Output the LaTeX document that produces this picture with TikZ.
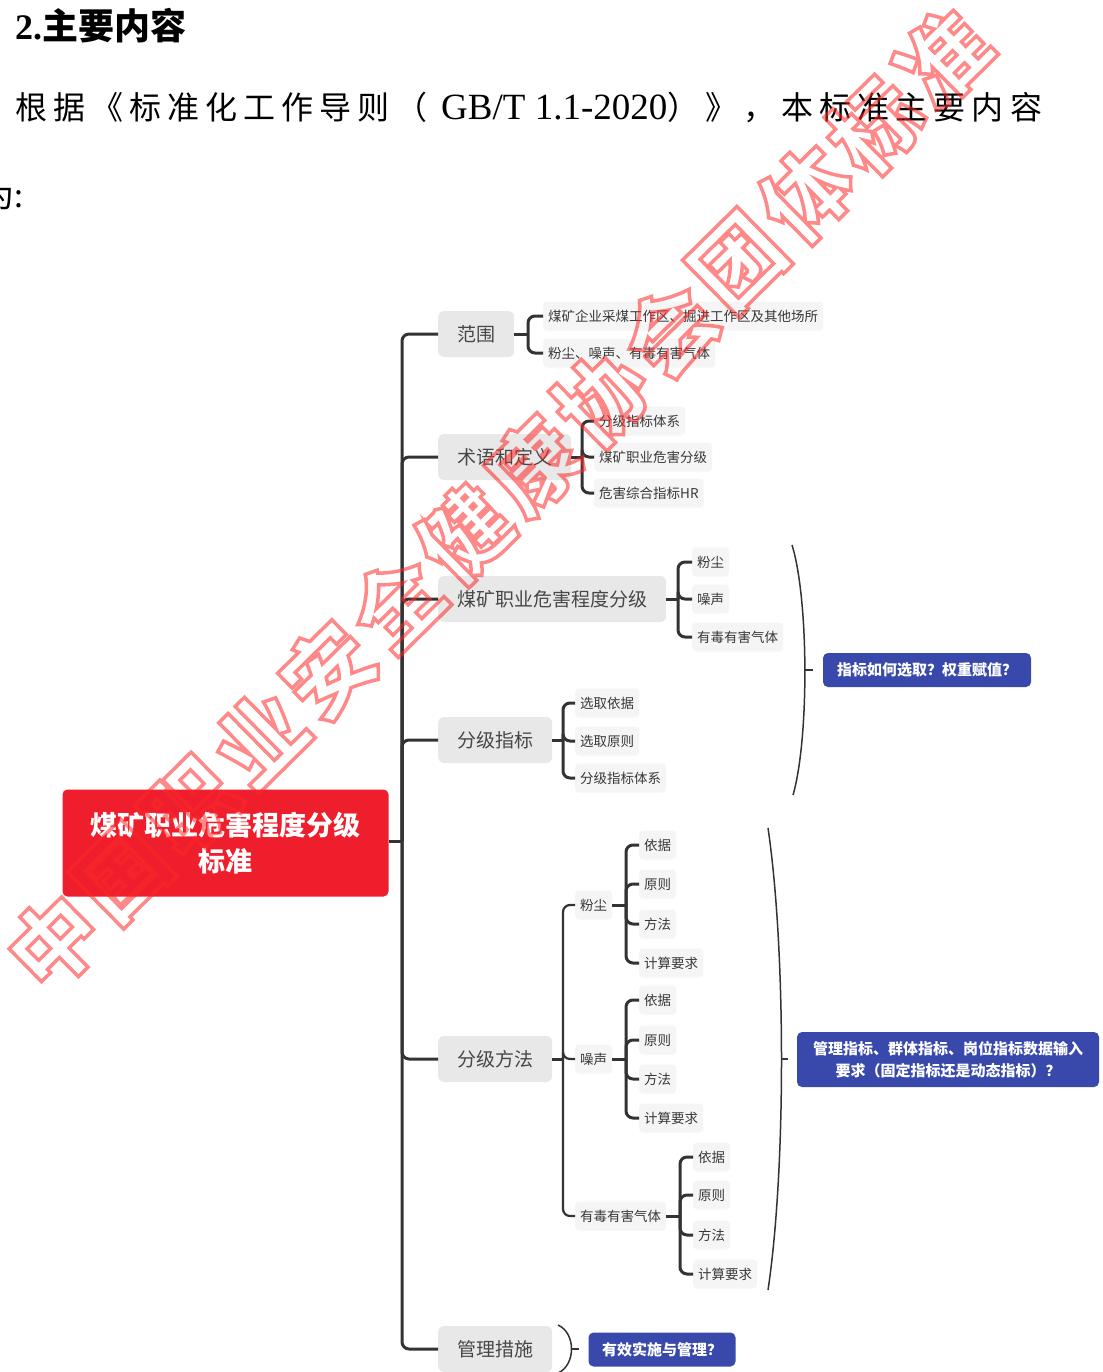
\documentclass[tikz,border=0pt]{standalone}
\usepackage{fontspec}
\setmainfont{Liberation Serif}
\newfontfamily\cjk{Noto Sans CJK SC}
\newfontfamily\cjkhead[LetterSpace=19]{Noto Sans CJK SC}
\usetikzlibrary{positioning,calc}

\definecolor{linegray}{RGB}{51,51,51}
\definecolor{boxgray}{RGB}{232,232,232}
\definecolor{leafgray}{RGB}{245,245,245}
\definecolor{rootred}{RGB}{238,30,45}
\definecolor{askblue}{RGB}{57,73,171}
\definecolor{wmred}{RGB}{255,40,40}

\begin{document}
\begin{tikzpicture}[x=1pt,y=-1pt]
\tikzstyle{every node}+=[inner sep=0pt]
\tikzstyle{link}=[draw=linegray, line width=3pt, rounded corners=7pt]
\tikzstyle{thinlink}=[draw=linegray, line width=2.2pt, rounded corners=7pt]
\tikzstyle{paren}=[draw=linegray, line width=1.5pt]
\tikzstyle{topic}=[fill=boxgray, rounded corners=6pt, inner xsep=19pt, minimum height=46pt, anchor=west, text=black!72, font=\cjk\fontsize{19}{19}\selectfont]
\tikzstyle{leaf}=[fill=leafgray, rounded corners=4pt, inner xsep=5pt, minimum height=29pt, anchor=west, text=black!78, font=\cjk\fontsize{13.5}{14}\selectfont]
\tikzstyle{ask}=[fill=askblue, rounded corners=5pt, text=white, align=center, font=\cjk\bfseries\fontsize{15}{22}\selectfont]
\tikzstyle{wm}=[text=wmred, opacity=0.55, rotate=44.6, font=\cjk\bfseries\fontsize{88}{88}\selectfont]
\useasboundingbox[fill=white] (0,0) rectangle (1102,1372);

\node[anchor=west, font=\cjk\bfseries\fontsize{36}{36}\selectfont] (title) at (15,26) {{\rmfamily 2.}主要内容};
\node[anchor=west] (intro) at (15,108) {\cjkhead\fontsize{32}{32}\selectfont 根据《标准化工作导则（ {\rmfamily\fontsize{37}{37}\selectfont GB/T 1.1-2020}）》，本标准主要内容};
\node[anchor=east, font=\cjk\fontsize{32}{32}\selectfont] (wei) at (24,195) {为:};

\node[fill=rootred, rounded corners=5pt, minimum width=326pt, minimum height=107pt, text=white, align=center, font=\cjk\bfseries\fontsize{27}{36}\selectfont] (std) at (225.5,843) {煤矿职业危害程度分级\\标准};

\node[topic] (fanwei) at (438,334) {范围};
\node[topic] (shuyu) at (438,457) {术语和定义};
\node[topic] (chengdu) at (438,599) {煤矿职业危害程度分级};
\node[topic] (zhibiao) at (438,740) {分级指标};
\node[topic] (fangfa) at (438,1059) {分级方法};
\node[topic] (guanli) at (438,1349) {管理措施};

\coordinate (trunk) at (402,841);
\draw[link] (std.east |- trunk) -- (trunk);
\foreach \t in {fanwei,shuyu,chengdu,zhibiao,fangfa,guanli}
  \draw[link] (trunk) |- (\t.west);

\coordinate (fwj) at (528,334);
\draw[link] (fanwei.east) -- (fwj);
\foreach \txt/\y [count=\i] in {煤矿企业采煤工作区、掘进工作区及其他场所/316,粉尘、噪声、有毒有害气体/353}{
  \node[leaf] (fw\i) at (543,\y) {\txt};
  \draw[link] (fwj) |- (fw\i.west);
}

\coordinate (syj) at (582,457);
\draw[link] (shuyu.east) -- (syj);
\foreach \txt/\y [count=\i] in {分级指标体系/421,煤矿职业危害分级/457,危害综合指标HR/493}{
  \node[leaf] (sy\i) at (594,\y) {\txt};
  \draw[link] (syj) |- (sy\i.west);
}

\coordinate (cdj) at (678,599);
\draw[link] (chengdu.east) -- (cdj);
\foreach \txt/\y [count=\i] in {粉尘/562,噪声/599,有毒有害气体/637}{
  \node[leaf] (cd\i) at (692,\y) {\txt};
  \draw[link] (cdj) |- (cd\i.west);
}

\coordinate (zbj) at (563,740);
\draw[link] (zhibiao.east) -- (zbj);
\foreach \txt/\y [count=\i] in {选取依据/703,选取原则/741,分级指标体系/778}{
  \node[leaf] (zb\i) at (575,\y) {\txt};
  \draw[link] (zbj) |- (zb\i.west);
}

\coordinate (ffj) at (563,1059);
\draw[link] (fangfa.east) -- (ffj);
\foreach \txt/\y [count=\i] in {粉尘/905,噪声/1059,有毒有害气体/1216}{
  \node[leaf] (ff\i) at (575,\y) {\txt};
  \draw[thinlink] (ffj) |- (ff\i.west);
}

\coordinate (fcj) at (626,905);
\draw[link] (ff1.east) -- (fcj);
\foreach \txt/\y [count=\i] in {依据/845,原则/884,方法/924,计算要求/963}{
  \node[leaf] (fc\i) at (639,\y) {\txt};
  \draw[link] (fcj) |- (fc\i.west);
}

\coordinate (zsj) at (626,1059);
\draw[link] (ff2.east) -- (zsj);
\foreach \txt/\y [count=\i] in {依据/1000,原则/1040,方法/1079,计算要求/1118}{
  \node[leaf] (zs\i) at (639,\y) {\txt};
  \draw[link] (zsj) |- (zs\i.west);
}

\coordinate (ydj) at (680,1216);
\draw[link] (ff3.east) -- (ydj);
\foreach \txt/\y [count=\i] in {依据/1157,原则/1195,方法/1235,计算要求/1274}{
  \node[leaf] (yd\i) at (693,\y) {\txt};
  \draw[link] (ydj) |- (yd\i.west);
}

\node[ask, minimum width=208pt, minimum height=34pt] (ask1) at (927,670) {指标如何选取？权重赋值？};
\node[ask, minimum width=302pt, minimum height=55pt] (ask2) at (948,1059.5) {管理指标、群体指标、岗位指标数据输入\\要求（固定指标还是动态指标）？};
\node[ask, minimum width=147pt, minimum height=34pt] (ask3) at (662,1349.5) {有效实施与管理？};

\coordinate (p1) at (805,670);
\draw[paren] (792,545) .. controls (809,600) and (809,740) .. (793,795);
\draw[paren] (p1) -- ++(8,0);
\coordinate (p2) at (781,1059);
\draw[paren] (768,828) .. controls (786,950) and (786,1170) .. (768,1290);
\draw[paren] (p2) -- ++(7,0);
\coordinate (p3) at (571,1349);
\draw[paren] (558,1325) .. controls (576,1333) and (576,1365) .. (558,1373);
\draw[paren] (p3) -- ++(8,0);

\foreach \ch [count=\i from 0] in {中,国,职,业,安,全,健,康,协,会,团,体,标,准}
  \node[wm] (wm\i) at ({54+68.4*\i},{942-68*\i}) {\special{pdf:literal direct 1 Tr 3.5 w}\ch};
\end{tikzpicture}
\end{document}
